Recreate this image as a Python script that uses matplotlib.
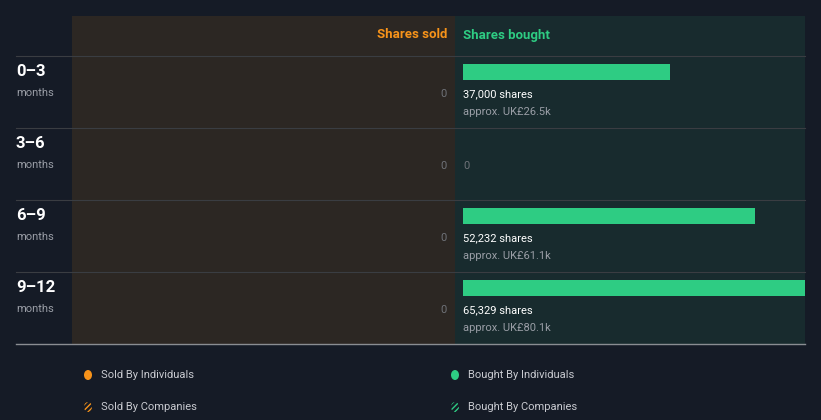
import matplotlib.pyplot as plt
from matplotlib.patches import Rectangle, Ellipse

plt.rcParams['font.family'] = ['Roboto', 'DejaVu Sans']

periods = ['0–3', '3–6', '6–9', '9–12']
sold = [0, 0, 0, 0]
bought = [37000, 0, 52232, 65329]
bought_value = ['UK£26.5k', None, 'UK£61.1k', 'UK£80.1k']

bg = '#151b26'
sold_bg = '#2c2723'
bought_bg = '#182b2e'
green = '#2ecc83'
orange = '#f7931a'
grid = '#3a3d42'

W, H = 821, 420
fig = plt.figure(figsize=(W/100, H/100), dpi=100, facecolor=bg)
ax = fig.add_axes([0, 0, 1, 1])
ax.set_xlim(0, W)
ax.set_ylim(H, 0)
ax.axis('off')

top, head, row_h = 16, 56, 72
sx0, mid, bx1 = 72, 455, 805
bottom = head + row_h*len(periods)

ax.add_patch(Rectangle((sx0, top), mid-sx0, bottom-top, color=sold_bg, lw=0))
ax.add_patch(Rectangle((mid, top), bx1-mid, bottom-top, color=bought_bg, lw=0))

ax.text(mid-8, 35, 'Shares sold', color=orange, fontsize=9.5, fontweight='bold', ha='right', va='center')
ax.text(mid+8, 35, 'Shares bought', color=green, fontsize=9.5, fontweight='bold', ha='left', va='center')

for i, p in enumerate(periods):
    y0 = head + i*row_h
    ax.plot([16, bx1], [y0, y0], color=grid, lw=0.8)
    ax.text(16, y0+15, p, color='white', fontsize=12, fontweight='bold', va='center')
    ax.text(16, y0+37, 'months', color='#9a9ea6', fontsize=8, va='center')
    ax.text(mid-8, y0+38, f'{sold[i]:,}', color='#6f7278', fontsize=8, ha='right', va='center')
    if bought[i] == 0:
        ax.text(mid+8, y0+38, '0', color='#6f7278', fontsize=8, ha='left', va='center')
    else:
        ax.text(mid+8, y0+38, f'{bought[i]:,} shares', color='white', fontsize=8, ha='left', va='center')
        ax.text(mid+8, y0+56, f'approx. {bought_value[i]}', color='#9a9ea6', fontsize=8, ha='left', va='center')

ax.plot([16, bx1], [bottom, bottom], color='#8a8d92', lw=1)

# bars on their own axes, scale in shares
px = 0.0056
bx = fig.add_axes([mid/W, 1-bottom/H, (bx1-mid)/W, (bottom-top)/H])
bx.set_xlim(-8/px, (bx1-mid-8)/px)
bx.set_ylim(len(periods)-0.5, -0.5-40/row_h)
bx.axis('off')
bx.patch.set_alpha(0)
yy = [i - 0.5 + 8/row_h for i in range(len(periods))]
bx.barh(yy, bought, height=16/row_h, align='edge', color=green)

# legend
def legend_item(x, y, color, label, hatch=False):
    if hatch:
        ax.add_patch(Ellipse((x, y), 8, 10, facecolor='none', edgecolor=color, hatch='//////', lw=0))
    else:
        ax.add_patch(Ellipse((x, y), 8, 10, color=color, lw=0))
    ax.text(x+13, y, label, color='#c8cad0', fontsize=8, va='center')

legend_item(88, 375, orange, 'Sold By Individuals')
legend_item(88, 407, orange, 'Sold By Companies', hatch=True)
legend_item(455, 375, green, 'Bought By Individuals')
legend_item(455, 407, green, 'Bought By Companies', hatch=True)

fig.savefig('out.png', dpi=100, facecolor=bg)
